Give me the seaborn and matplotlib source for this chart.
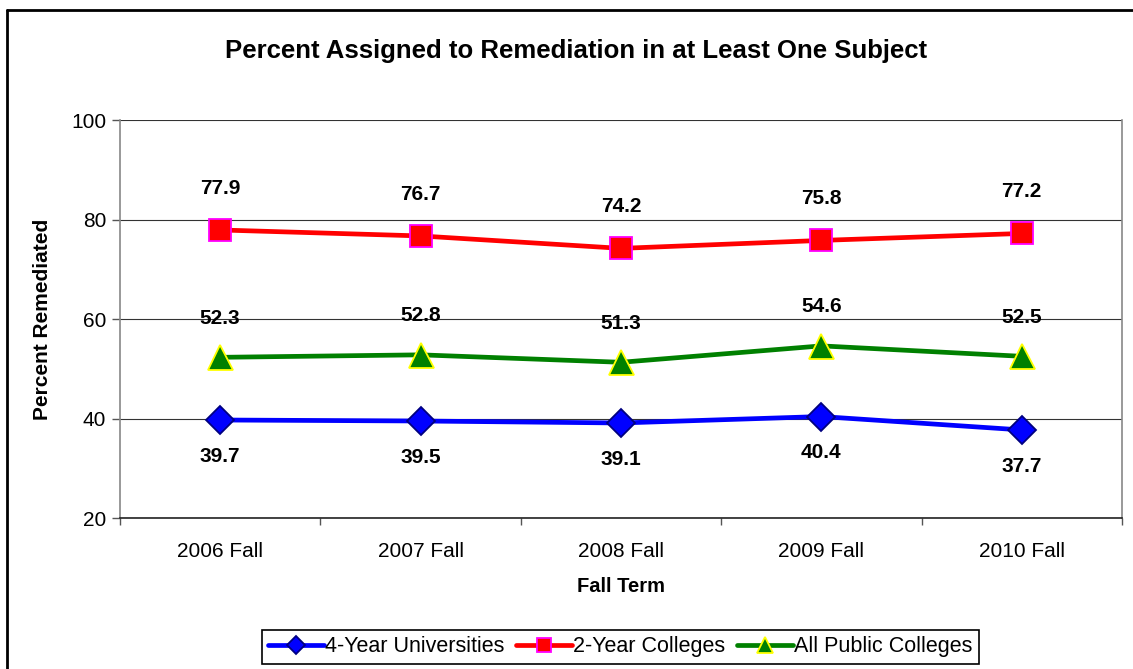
import numpy as np
import pandas as pd
import matplotlib
matplotlib.use("Agg")
import matplotlib.pyplot as plt
import seaborn as sns

# data
terms = ['2006 Fall', '2007 Fall', '2008 Fall', '2009 Fall', '2010 Fall']
univ_4yr = [39.7, 39.5, 39.1, 40.4, 37.7]
coll_2yr = [77.9, 76.7, 74.2, 75.8, 77.2]
all_public = [52.3, 52.8, 51.3, 54.6, 52.5]

sns.set_theme(style='white')
plt.rcParams['font.family'] = ['Liberation Sans', 'DejaVu Sans']
plt.rcParams['text.color'] = 'black'
plt.rcParams['axes.labelcolor'] = 'black'

fig = plt.figure(figsize=(11.33, 6.69), dpi=100)
ax = fig.add_axes([0.1059, 0.2257, 0.8844, 0.5949])

# series: values, colour, marker, marker edge, marker size, label offset (pt), name
series = [
    (univ_4yr, '#0000FF', 'D', '#000080', 14, -26, '4-Year Universities'),
    (coll_2yr, '#FF0000', 's', '#FF00FF', 16, 30, '2-Year Colleges'),
    (all_public, '#008000', '^', '#FFFF00', 18, 28, 'All Public Colleges'),
]

for vals, col, mk, mec, ms, off, name in series:
    df = pd.DataFrame({'term': terms, 'value': vals})
    sns.lineplot(data=df, x='term', y='value', ax=ax, color=col, lw=3.4,
                 marker=mk, markersize=ms, markerfacecolor=col,
                 markeredgecolor=mec, markeredgewidth=1.3, label=name,
                 sort=False)
    for i, v in enumerate(vals):
        ax.annotate(f'{v:.1f}', (i, v), xytext=(0, off), textcoords='offset points',
                    ha='center', va='center', fontsize=15, fontweight='bold',
                    color='black')

ax.set_xlim(-0.5, 4.5)
ax.set_ylim(20, 100)
ax.set_yticks([20, 40, 60, 80, 100])
ax.set_xticks(range(len(terms)))
ax.set_xticklabels(terms)
ax.set_xticks(np.arange(-0.5, 5, 1), minor=True)
ax.tick_params(axis='x', which='major', length=0, labelsize=15, pad=17, colors='black')
ax.tick_params(axis='x', which='minor', length=5, width=1, color='#555555', direction='out', bottom=True)
ax.tick_params(axis='y', length=6, width=1, color='#555555', direction='out', left=True,
               labelsize=15, pad=4, labelcolor='black')
ax.yaxis.grid(True, color='#333333', lw=0.8)
ax.set_axisbelow(True)

for s in ['left', 'right']:
    ax.spines[s].set_color('#888888')
    ax.spines[s].set_linewidth(1.2)
ax.spines['top'].set_visible(False)
ax.spines['bottom'].set_color('#222222')
ax.spines['bottom'].set_linewidth(1.2)

ax.set_xlabel('Fall Term', fontsize=14.5, fontweight='bold', labelpad=12)
ax.set_ylabel('Percent Remediated', fontsize=15, fontweight='bold', labelpad=14)

fig.suptitle('Percent Assigned to Remediation in at Least One Subject', x=0.508, y=0.942,
             fontsize=18.5, fontweight='bold', color='black')

ax.legend(loc='center', bbox_to_anchor=(0.5475, 0.0329), bbox_transform=fig.transFigure,
          ncol=3, fontsize=15.5, frameon=True, fancybox=False, edgecolor='black',
          framealpha=1, handlelength=2.6, handletextpad=0.05, columnspacing=0.55,
          borderpad=0.3, markerscale=0.65)
ax.get_legend().get_frame().set_linewidth(1.2)

# outer chart border (only top and left edges visible in the reference)
fig.add_artist(plt.Line2D([0.0066, 0.0066], [0, 0.985], transform=fig.transFigure,
                          color='black', lw=2))
fig.add_artist(plt.Line2D([0.0066, 1.0], [0.985, 0.985], transform=fig.transFigure,
                          color='black', lw=2))

fig.savefig('out.png', dpi=100)
